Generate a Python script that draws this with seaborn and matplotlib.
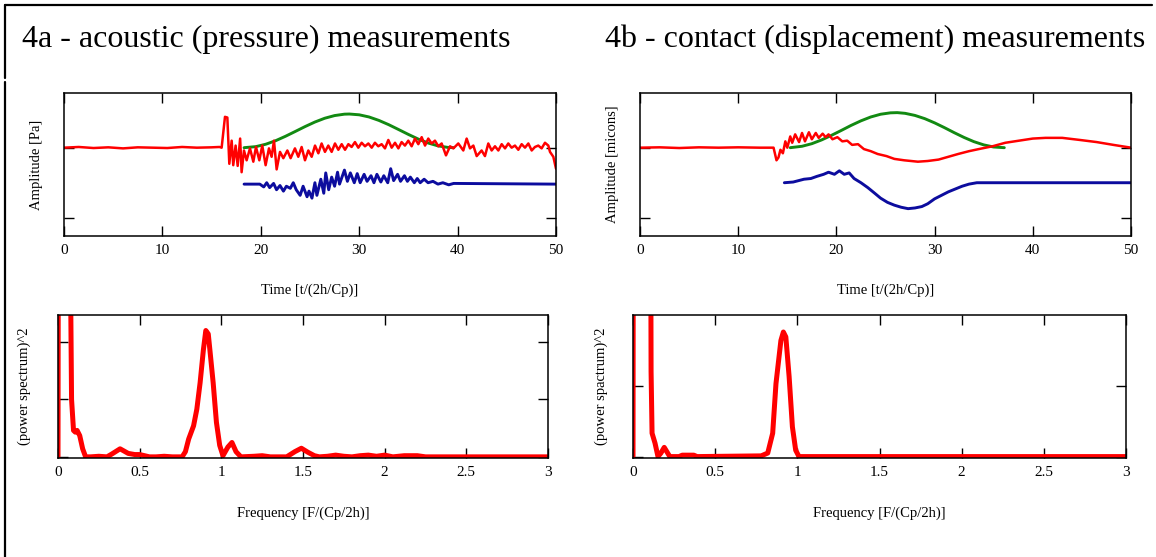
import matplotlib
matplotlib.use("Agg")
import matplotlib.pyplot as plt
import seaborn as sns
from matplotlib.lines import Line2D

# 4a - acoustic, time signals
t_a_red = [0, 1.5, 3, 4.5, 6, 7.5, 9, 10.5, 12, 13.5, 15, 15.8, 16.02, 16.36, 16.6, 16.8, 17.04, 17.2, 17.44,
           17.65, 17.9, 18.05, 18.29, 18.56, 18.9, 19.24, 19.51, 19.85, 20.15, 20.49, 20.83, 21.1, 21.34,
           21.61, 21.95, 22.29, 22.7, 23.03, 23.47, 23.81, 24.15, 24.49, 24.83, 25.17, 25.51, 25.85, 26.18,
           26.52, 26.86, 27.2, 27.54, 27.88, 28.22, 28.56, 28.9, 29.23, 29.57, 29.91, 30.25, 30.59, 30.93,
           31.27, 31.6, 31.94, 32.28, 32.62, 32.96, 33.3, 33.64, 33.98, 34.31, 34.65, 34.99, 35.33, 35.67,
           36.01, 36.35, 36.69, 37.02, 37.36, 37.7, 38.04, 38.38, 38.82, 39.23, 39.57, 40.07, 40.58, 40.92,
           41.26, 41.6, 41.94, 42.44, 42.78, 43.12, 43.46, 43.8, 44.14, 44.48, 44.82, 45.15, 45.49, 45.83,
           46.17, 46.51, 46.85, 47.19, 47.53, 47.86, 48.2, 48.54, 48.88, 49.22, 49.39, 49.73, 50.0]
p_a_red = [0, 0.01, -0.005, 0.005, -0.01, 0.005, 0, -0.005, 0.01, 0, 0.005, 0.01, 0.0, 0.44, 0.43, -0.23, 0.1,
           -0.25, 0.03, -0.26, 0.13, -0.35, -0.04, -0.18, -0.01, -0.2, 0.01, -0.18, 0.03, -0.25, -0.01, -0.13,
           0.1, -0.31, -0.06, -0.15, -0.04, -0.15, -0.01, -0.13, 0.01, -0.18, -0.04, -0.13, 0.03, -0.08, 0.06,
           -0.06, 0.03, -0.06, 0.06, -0.03, 0.05, -0.03, 0.05, 0.01, 0.08, 0.0, 0.07, 0.02, 0.06, 0.0, 0.07,
           0.02, 0.05, -0.01, 0.11, 0.0, 0.07, -0.01, 0.08, 0.03, 0.1, 0.02, 0.13, 0.05, 0.15, 0.03, 0.13,
           0.06, 0.1, 0.02, 0.06, -0.11, 0.02, -0.01, 0.06, -0.04, 0.13, -0.01, 0.03, -0.12, -0.04, -0.12,
           0.06, -0.04, 0.02, -0.04, 0.05, -0.01, 0.06, 0.0, 0.03, -0.03, 0.05, 0.0, 0.06, -0.04, 0.01, 0.03,
           -0.01, 0.07, 0.03, -0.06, -0.13, -0.3]

t_a_green = [18.3, 19.5, 20.5, 21.5, 22.5, 23.5, 24.5, 25.5, 26.5, 27.5, 28.5, 29.0, 30, 31, 32, 33, 34, 35,
             36, 37, 38, 39, 39.6]
p_a_green = [0.0, 0.015, 0.049, 0.099, 0.162, 0.231, 0.301, 0.366, 0.42, 0.458, 0.478, 0.48, 0.469, 0.438,
             0.389, 0.328, 0.259, 0.189, 0.123, 0.067, 0.026, 0.004, 0.0]

t_a_blue = [18.3, 19.9, 20.3, 20.6, 20.9, 21.3, 21.6, 21.95, 22.3, 22.6, 23.0, 23.3, 23.6, 24.0, 24.3, 24.7,
            24.9, 25.2, 25.5, 25.7, 26.1, 26.4, 26.6, 26.9, 27.2, 27.5, 27.8, 28.0, 28.5, 28.8, 29.1, 29.5,
            29.8, 30.1, 30.5, 30.8, 31.2, 31.5, 31.8, 32.2, 32.5, 32.9, 33.2, 33.5, 33.9, 34.2, 34.6, 34.9,
            35.2, 35.6, 35.9, 36.2, 36.6, 37.0, 37.5, 38.0, 38.5, 39.1, 39.6, 50.0]
p_a_blue = [-0.52, -0.52, -0.56, -0.5, -0.57, -0.51, -0.6, -0.54, -0.62, -0.55, -0.58, -0.5, -0.6, -0.68,
            -0.55, -0.7, -0.62, -0.72, -0.5, -0.68, -0.45, -0.65, -0.36, -0.6, -0.42, -0.55, -0.35, -0.52,
            -0.32, -0.48, -0.36, -0.5, -0.37, -0.5, -0.38, -0.48, -0.4, -0.5, -0.38, -0.49, -0.4, -0.5, -0.3,
            -0.47, -0.38, -0.48, -0.4, -0.48, -0.42, -0.5, -0.44, -0.5, -0.45, -0.5, -0.48, -0.52, -0.5,
            -0.53, -0.51, -0.52]

# 4b - contact, time signals
t_b_red = [0, 2, 4, 6, 8, 10, 12.2, 13.6, 13.9, 14.1, 14.3, 14.55, 14.8, 15.0, 15.3, 15.5, 15.8, 16.2, 16.5,
           16.8, 17.2, 17.5, 17.9, 18.2, 18.6, 18.9, 19.2, 19.6, 20.1, 20.6, 21.1, 21.6, 22.2, 22.8, 23.5,
           24.2, 25.1, 25.9, 26.9, 28.3, 29.3, 30.4, 31.4, 32.4, 33.5, 34.5, 35.9, 37.2, 38.6, 40.0, 41.3,
           43.0, 44.8, 46.5, 48.2, 50.0]
d_b_red = [0, 0.005, -0.005, 0.005, 0.0, 0.005, 0.0, 0.0, -0.18, -0.14, -0.03, -0.08, 0.09, 0.0, 0.16, 0.07,
           0.19, 0.08, 0.21, 0.09, 0.22, 0.12, 0.21, 0.14, 0.2, 0.15, 0.19, 0.12, 0.15, 0.09, 0.1, 0.04, 0.05,
           -0.02, -0.05, -0.09, -0.12, -0.16, -0.18, -0.2, -0.19, -0.17, -0.13, -0.09, -0.05, -0.02, 0.02,
           0.07, 0.1, 0.13, 0.14, 0.14, 0.11, 0.08, 0.04, 0.0]

t_b_green = [15.3, 16.5, 17.5, 18.5, 19.5, 20.5, 21.5, 22.5, 23.5, 24.5, 25.5, 26.2, 27, 28, 29, 30, 31, 32,
             33, 34, 35, 36, 37.1]
d_b_green = [0.0, 0.02, 0.057, 0.111, 0.176, 0.246, 0.318, 0.383, 0.438, 0.477, 0.497, 0.5, 0.49, 0.46,
             0.414, 0.354, 0.286, 0.214, 0.146, 0.086, 0.04, 0.01, 0.0]

t_b_blue = [14.7, 15.6, 16.7, 17.4, 18.0, 18.7, 19.2, 19.8, 20.3, 20.8, 21.3, 21.8, 22.5, 23.2, 23.9, 24.5,
            25.2, 25.9, 26.6, 27.3, 28.0, 28.7, 29.3, 30.0, 30.7, 31.4, 32.1, 32.8, 33.5, 34.3, 50.0]
d_b_blue = [-0.5, -0.49, -0.45, -0.44, -0.41, -0.38, -0.35, -0.38, -0.33, -0.38, -0.36, -0.44, -0.5, -0.57,
            -0.65, -0.72, -0.78, -0.82, -0.85, -0.87, -0.86, -0.84, -0.8, -0.73, -0.68, -0.63, -0.59, -0.55,
            -0.52, -0.5, -0.5]

# spectra
f_a = [0, 0.003, 0.068, 0.083, 0.095, 0.106, 0.117, 0.133, 0.151, 0.169, 0.2, 0.25, 0.3, 0.33, 0.38, 0.43,
       0.47, 0.5, 0.53, 0.56, 0.6, 0.65, 0.7, 0.76, 0.78, 0.8, 0.83, 0.85, 0.87, 0.89, 0.905, 0.92, 0.93,
       0.95, 0.97, 0.99, 1.01, 1.04, 1.065, 1.09, 1.12, 1.2, 1.25, 1.3, 1.4, 1.45, 1.49, 1.53, 1.57, 1.6,
       1.65, 1.7, 1.75, 1.8, 1.85, 1.9, 1.95, 2.0, 2.05, 2.12, 2.2, 2.25, 3.0]
s_a = [0, 6.0, 6.0, 1.0, 0.46, 0.43, 0.46, 0.37, 0.14, 0.0, 0.0, 0.01, 0.0, 0.05, 0.14, 0.06, 0.04, 0.04,
       0.02, 0.0, 0.0, 0.01, 0.0, 0.0, 0.09, 0.31, 0.54, 0.83, 1.29, 1.86, 2.2, 2.14, 1.86, 1.29, 0.6, 0.2,
       0.02, 0.17, 0.25, 0.09, 0.0, 0.01, 0.02, 0.0, 0.0, 0.09, 0.15, 0.08, 0.02, 0.0, 0.01, 0.03, 0.01,
       0.0, 0.02, 0.03, 0.01, 0.03, 0.0, 0.02, 0.02, 0.0, 0.0]

f_b = [0, 0.003, 0.105, 0.11, 0.116, 0.134, 0.152, 0.17, 0.19, 0.224, 0.28, 0.3, 0.37, 0.39, 0.78, 0.82,
       0.85, 0.87, 0.9, 0.915, 0.93, 0.95, 0.97, 0.99, 1.01, 3.0]
s_b = [0, 6.0, 6.0, 1.2, 0.33, 0.19, 0.0, 0.05, 0.13, 0.0, 0.0, 0.02, 0.02, 0.0, 0.01, 0.05, 0.33, 1.03,
       1.64, 1.76, 1.69, 1.13, 0.42, 0.09, 0.0, 0.0]

time_ticks = [0, 10, 20, 30, 40, 50]
freq_ticks = [0, 0.5, 1, 1.5, 2, 2.5, 3]
freq_labels = ["0", "0.5", "1", "1.5", "2", "2.5", "3"]

RED = "#ff0000"
GREEN = "#128a12"
BLUE = "#0c0c9e"

sns.set_theme(style="ticks")
plt.rcParams["font.family"] = ["Liberation Serif", "DejaVu Serif"]
plt.rcParams["xtick.direction"] = "in"
plt.rcParams["ytick.direction"] = "in"
plt.rcParams["text.color"] = "black"
plt.rcParams["axes.labelcolor"] = "black"
plt.rcParams["xtick.labelcolor"] = "black"
plt.rcParams["ytick.labelcolor"] = "black"

fig = plt.figure(figsize=(11.56, 5.57), dpi=100)
W, H = 1156, 557


def make_ax(left, right, top, bottom):
    return fig.add_axes([left / W, 1 - bottom / H, (right - left) / W, (bottom - top) / H])


def style_ax(ax, xticks, xlabels, yticks, ylabel, xlabel, ylab_x, xlab_y):
    ax.set_xticks(xticks)
    ax.set_xticklabels(xlabels)
    ax.set_yticks(yticks)
    ax.set_yticklabels([])
    ax.tick_params(axis="both", which="both", top=True, right=True, length=7, width=1.0,
                   color="black", labelcolor="black", labelsize=11, pad=6)
    for sp in ax.spines.values():
        sp.set_visible(True)
        sp.set_color("black")
        sp.set_linewidth(1.1)
    ax.set_ylabel(ylabel, fontsize=10.5, color="black")
    ax.set_xlabel(xlabel, fontsize=10.5, color="black")
    ax.yaxis.set_label_coords(ylab_x, 0.5)
    ax.xaxis.set_label_coords(0.5, xlab_y)


def line(ax, x, y, color, lw):
    sns.lineplot(x=x, y=y, ax=ax, color=color, linewidth=lw, estimator=None, sort=False)


# 4a time
ax1 = make_ax(64, 556, 93, 236)
line(ax1, t_a_green, p_a_green, GREEN, 2.1)
line(ax1, t_a_red, p_a_red, RED, 1.8)
line(ax1, t_a_blue, p_a_blue, BLUE, 2.1)
ax1.set_xlim(0, 50)
ax1.set_ylim(-1.26, 0.78)
style_ax(ax1, time_ticks, [str(v) for v in time_ticks], [-1, 0], "Amplitude [Pa]",
         "Time [t/(2h/Cp)]", -0.043, -0.33)

# 4b time
ax2 = make_ax(640, 1131, 93, 236)
line(ax2, t_b_green, d_b_green, GREEN, 2.1)
line(ax2, t_b_red, d_b_red, RED, 1.8)
line(ax2, t_b_blue, d_b_blue, BLUE, 2.1)
ax2.set_xlim(0, 50)
ax2.set_ylim(-1.26, 0.78)
style_ax(ax2, time_ticks, [str(v) for v in time_ticks], [-1, 0], "Amplitude [micons]",
         "Time [t/(2h/Cp)]", -0.043, -0.33)

# 4a spectrum
ax3 = make_ax(58, 548, 315, 458)
line(ax3, f_a, s_a, RED, 3.6)
ax3.set_xlim(0, 3)
ax3.set_ylim(-0.02, 2.47)
style_ax(ax3, freq_ticks, freq_labels, [0, 1, 2], "(power spectrum)^2",
         "Frequency [F/(Cp/2h)]", -0.056, -0.34)

# 4b spectrum
ax4 = make_ax(633, 1126, 315, 458)
line(ax4, f_b, s_b, RED, 3.6)
ax4.set_xlim(0, 3)
ax4.set_ylim(-0.02, 2.0)
style_ax(ax4, freq_ticks, freq_labels, [0, 1], "(power spactrum)^2",
         "Frequency [F/(Cp/2h)]", -0.051, -0.34)

fig.text(22 / W, 1 - 47 / H, "4a - acoustic (pressure) measurements", fontsize=23, va="baseline")
fig.text(605 / W, 1 - 47 / H, "4b - contact (displacement) measurements", fontsize=23, va="baseline")

# outer frame (top and left edge, as in the original layout)
fig.add_artist(Line2D([5 / W, 1152 / W], [1 - 5 / H, 1 - 5 / H], color="black", lw=1.6))
fig.add_artist(Line2D([5 / W, 5 / W], [1 - 5 / H, 1 - 78 / H], color="black", lw=1.6))
fig.add_artist(Line2D([5 / W, 5 / W], [1 - 82 / H, 0], color="black", lw=1.6))

fig.savefig("out.png", dpi=100)
